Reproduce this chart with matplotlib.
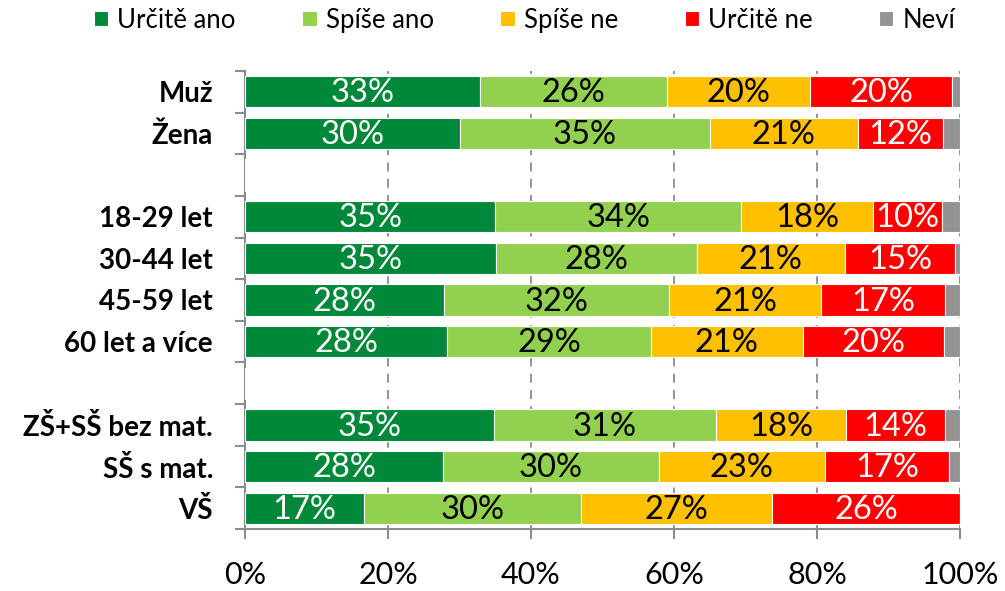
import matplotlib
matplotlib.use("Agg")
import matplotlib.pyplot as plt
import numpy as np

plt.rcParams['font.family'] = ['Lato', 'DejaVu Sans']

categories = ["Muž", "Žena", "", "18-29 let", "30-44 let", "45-59 let", "60 let a více", "",
              "ZŠ+SŠ bez mat.", "SŠ s mat.", "VŠ"]
series_names = ["Určitě ano", "Spíše ano", "Spíše ne", "Určitě ne", "Neví"]
urcite_ano = [32.9, 30.1, None, 35.0, 35.1, 27.8, 28.3, None, 34.8, 27.7, 16.6]
spise_ano  = [26.1, 34.9, None, 34.4, 28.1, 31.5, 28.5, None, 31.1, 30.2, 30.4]
spise_ne   = [20.0, 20.7, None, 18.4, 20.7, 21.3, 21.2, None, 18.2, 23.2, 26.7]
urcite_ne  = [19.9, 11.9, None, 9.7, 15.4, 17.3, 19.8, None, 13.8, 17.4, 26.3]
nevi       = [1.1, 2.4, None, 2.5, 0.7, 2.1, 2.2, None, 2.1, 1.5, 0.0]
labels_txt = {
    0: ["33%", "30%", "", "35%", "35%", "28%", "28%", "", "35%", "28%", "17%"],
    1: ["26%", "35%", "", "34%", "28%", "32%", "29%", "", "31%", "30%", "30%"],
    2: ["20%", "21%", "", "18%", "21%", "21%", "21%", "", "18%", "23%", "27%"],
    3: ["20%", "12%", "", "10%", "15%", "17%", "20%", "", "14%", "17%", "26%"],
}
colors = ["#00883A", "#92D050", "#FFC000", "#FF0000", "#939393"]
text_colors = ["white", "black", "black", "white"]
xticks = [0, 20, 40, 60, 80, 100]
xtick_labels = ["0%", "20%", "40%", "60%", "80%", "100%"]

fig = plt.figure(figsize=(10.05, 5.91), dpi=100)
ax = fig.add_axes([245/1005, 1-529/591, (960-245)/1005, (529-71)/591])

n = len(categories)
ypos = np.arange(n)
series = [urcite_ano, spise_ano, spise_ne, urcite_ne, nevi]
left = np.zeros(n)
for si, (vals, col) in enumerate(zip(series, colors)):
    v = np.array([0.0 if x is None else x for x in vals])
    bars = ax.barh(ypos, v, left=left, height=0.75, color=col, edgecolor="white",
                   linewidth=0.8, label=series_names[si], zorder=3)
    if si in labels_txt:
        for i, b in enumerate(bars):
            t = labels_txt[si][i]
            if t:
                ax.text(left[i] + v[i] / 2, ypos[i] + 0.04, t, ha="center", va="center",
                        fontsize=23.5, color=text_colors[si], zorder=4)
    left += v

ax.set_xlim(0, 100)
ax.set_ylim(n - 0.5, -0.5)

ax.set_xticks(xticks)
ax.set_xticklabels(xtick_labels, fontsize=22)
ax.tick_params(axis="x", direction="out", length=7, width=1.5, color="#8C8C8C", pad=16)

ax.set_yticks(np.arange(-0.5, n, 1.0))
ax.set_yticklabels([])
ax.set_yticks(ypos, minor=True)
ax.set_yticklabels(categories, minor=True, fontsize=20, fontweight="bold")
ax.tick_params(axis="y", which="major", direction="out", length=7, width=1.5, color="#8C8C8C")
ax.tick_params(axis="y", which="minor", length=0, pad=23)

for x in xticks[1:]:
    ax.axvline(x, color="#8C8C8C", linestyle=(0, (5, 4)), linewidth=1.3, zorder=1)

for s in ["top", "right"]:
    ax.spines[s].set_visible(False)
for s in ["left", "bottom"]:
    ax.spines[s].set_color("#8C8C8C")
    ax.spines[s].set_linewidth(1.5)

handles, lbls = ax.get_legend_handles_labels()
fig.legend(handles, lbls, loc="center", bbox_to_anchor=(0.522, 0.966), ncol=5,
           frameon=False, fontsize=18.5, handlelength=0.55, handleheight=0.55,
           handletextpad=0.35, columnspacing=2.6)

fig.savefig("out.png", dpi=100)
